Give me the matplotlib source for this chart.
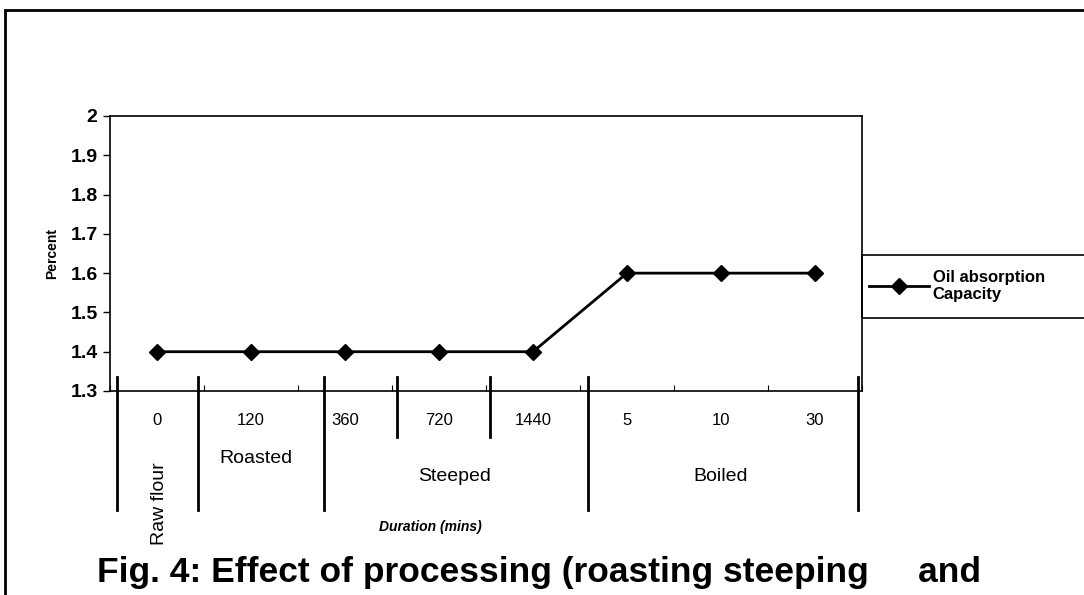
import numpy as np
import matplotlib
matplotlib.use("Agg")
import matplotlib.pyplot as plt
import matplotlib.transforms as mtransforms
from matplotlib.patches import Rectangle

plt.rcParams['font.family'] = ['Liberation Sans', 'DejaVu Sans']

# data
durations = ['0', '120', '360', '720', '1440', '5', '10', '30']
oil_absorption = [1.4, 1.4, 1.4, 1.4, 1.4, 1.6, 1.6, 1.6]
y_ticks = [1.3, 1.4, 1.5, 1.6, 1.7, 1.8, 1.9, 2.0]
y_tick_labels = ['1.3', '1.4', '1.5', '1.6', '1.7', '1.8', '1.9', '2']
groups = ['Roasted', 'Steeped', 'Boiled']
group_centres = [1.05, 3.17, 6.0]

W, H = 1084, 595
fig = plt.figure(figsize=(W / 100, H / 100), dpi=100)
fig.patch.set_facecolor('white')


def fx(px):
    return px / W


def fy(py):
    return 1 - py / H


ax = fig.add_axes([fx(110), fy(391), fx(862) - fx(110), fy(116) - fy(391)])
x = np.arange(len(durations))
ax.plot(x, oil_absorption, color='black', lw=2, marker='D', markersize=8,
        label='Oil absorption\nCapacity')

ax.set_xlim(-0.5, len(durations) - 0.5)
ax.set_ylim(1.3, 2.0)
ax.set_yticks(y_ticks)
ax.set_yticklabels(y_tick_labels, fontsize=14, fontweight='bold')
ax.tick_params(axis='y', direction='out', length=5, width=1, pad=4)
ax.set_xticks(x)
ax.set_xticklabels(durations, fontsize=12)
ax.tick_params(axis='x', length=0, pad=16)
# small category boundary ticks on the x axis
ax.set_xticks(np.arange(-0.5, len(durations)), minor=True)
ax.tick_params(axis='x', which='minor', direction='in', length=4, width=0.8)
for s in ax.spines.values():
    s.set_linewidth(1.2)

ax.set_ylabel('Percent', fontsize=10, fontweight='bold', labelpad=8)

# separator lines under the axis
trans = mtransforms.blended_transform_factory(ax.transData, ax.transAxes)
long_seps = [-0.43, 0.44, 1.78, 4.59, 7.46]
short_seps = [2.55, 3.54]
for s in long_seps:
    ax.plot([s, s], [0.051, -0.433], color='black', lw=2, transform=trans, clip_on=False)
for s in short_seps:
    ax.plot([s, s], [0.051, -0.167], color='black', lw=2, transform=trans, clip_on=False)

ax.text(group_centres[0], -0.245, groups[0], transform=trans, ha='center', va='center', fontsize=14)
ax.text(group_centres[1], -0.31, groups[1], transform=trans, ha='center', va='center', fontsize=14)
ax.text(group_centres[2], -0.31, groups[2], transform=trans, ha='center', va='center', fontsize=14)
ax.text(0.03, -0.41, 'Raw flour', transform=trans, ha='center', va='center',
        rotation=90, fontsize=14)
ax.text(fx(430), fy(527), 'Duration (mins)', transform=fig.transFigure, ha='center',
        va='center', fontsize=10, fontweight='bold', style='italic')

# legend box runs off the right edge in the reference
fig.patches.append(Rectangle((fx(862), fy(318)), 0.3, fy(255) - fy(318),
                             transform=fig.transFigure, fill=False, edgecolor='black', lw=1.2))
fig.legend(loc='center left', bbox_to_anchor=(fx(866), fy(286)), frameon=False,
           borderaxespad=0, handlelength=3.6, handletextpad=0.2,
           prop={'weight': 'bold', 'size': 12}, borderpad=0.2, labelspacing=0.2)

# outer frame of the chart
fig.patches.append(Rectangle((fx(5), -0.1), 1.2, fy(10) + 0.1, transform=fig.transFigure,
                             fill=False, edgecolor='black', lw=2))

fig.text(fx(97), fy(556), 'Fig. 4: Effect of processing (roasting steeping     and',
         fontsize=25.5, fontweight='bold', ha='left', va='top')

fig.savefig('out.png', dpi=100)
